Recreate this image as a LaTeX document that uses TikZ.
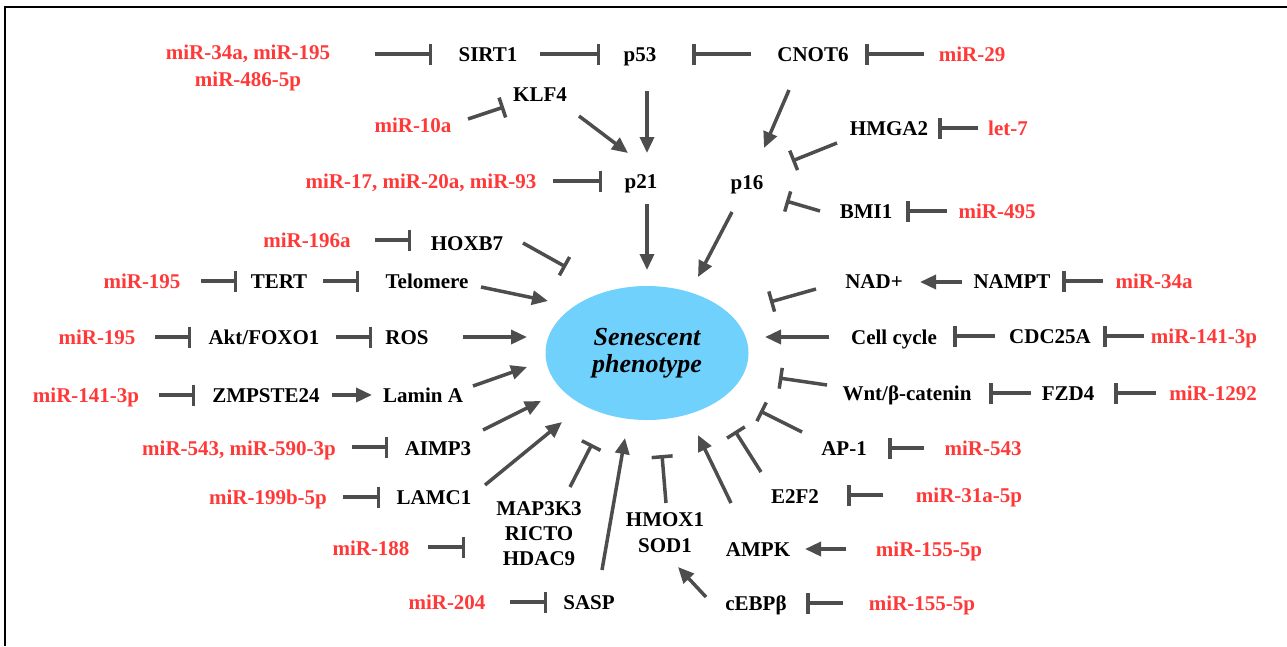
\documentclass[tikz,border=0pt]{standalone}
\usepackage{fontspec}
\setmainfont{Liberation Serif}
\usetikzlibrary{arrows.meta,shapes.geometric}
\definecolor{linegray}{RGB}{77,77,77}
\definecolor{mirred}{RGB}{255,56,56}
\definecolor{phenoblue}{RGB}{112,209,253}
\newcommand\genefont{\fontsize{21}{25}\selectfont\bfseries}
\tikzset{
  gene/.style={font=\genefont, text=black, inner sep=0pt, text height=14pt, text depth=0pt},
  mir/.style={gene, text=mirred},
  genemulti/.style={font=\genefont, text=black, inner sep=0pt, align=center},
  mirmulti/.style={genemulti, text=mirred},
  con/.style={draw=linegray, line width=3.5pt},
  inh/.style={con, -{Bar[width=21pt]}},
  act/.style={con, -{Triangle[length=16pt,width=14pt]}},
}
\begin{document}
\begin{tikzpicture}[x=1pt,y=-1pt]
\useasboundingbox (0,0) rectangle (1287,646);
\draw[line width=1.5pt] (5,646) -- (5,7) -- (1287,7);

% central node
\node[ellipse, fill=phenoblue, minimum width=203pt, minimum height=134pt, inner sep=0pt,
      font=\fontsize{26}{27}\selectfont\bfseries\itshape, align=center] (pheno) at (647,353) {Senescent\\phenotype};

% genes
\node[gene] (SIRT1) at (488,54) {SIRT1};
\node[gene] (p53) at (640,54) {p53};
\node[gene] (CNOT6) at (813,54) {CNOT6};
\node[gene] (KLF4) at (540,94) {KLF4};
\node[gene] (p21) at (641,181) {p21};
\node[gene] (p16) at (747,182) {p16};
\node[gene] (HMGA2) at (889,128) {HMGA2};
\node[gene] (BMI1) at (866,211) {BMI1};
\node[gene] (HOXB7) at (467,243) {HOXB7};
\node[gene] (TERT) at (279,281) {TERT};
\node[gene] (Telomere) at (427,281) {Telomere};
\node[gene] (Akt) at (264,337) {Akt/FOXO1};
\node[gene] (ROS) at (407,337) {ROS};
\node[gene] (ZMP) at (266,395) {ZMPSTE24};
\node[gene] (LaminA) at (423,395) {Lamin A};
\node[gene] (AIMP3) at (438,448) {AIMP3};
\node[gene] (LAMC1) at (434,497) {LAMC1};
\node[genemulti] (MAP) at (539,534) {MAP3K3\\RICTO\\HDAC9};
\node[gene] (SASP) at (589,602) {SASP};
\node[genemulti] (HMOX) at (665,533) {HMOX1\\[1pt]SOD1};
\node[gene] (cEBPb) at (756,603) {cEBPβ};
\node[gene] (AMPK) at (758,549) {AMPK};
\node[gene] (E2F2) at (795,496) {E2F2};
\node[gene] (AP1) at (844,448) {AP-1};
\node[gene] (Wnt) at (907,393) {Wnt/β-catenin};
\node[gene] (FZD4) at (1068,393) {FZD4};
\node[gene] (Cell) at (894,337) {Cell cycle};
\node[gene] (CDC) at (1050,336) {CDC25A};
\node[gene] (NAD) at (874,281) {NAD+};
\node[gene] (NAMPT) at (1012,281) {NAMPT};

% microRNAs
\node[mirmulti] (m1) at (248,67.5) {miR-34a, miR-195\\[2pt]miR-486-5p};
\node[mir] (m29) at (972,54) {miR-29};
\node[mir] (m10a) at (413,125) {miR-10a};
\node[mir] (m17) at (421,181) {miR-17, miR-20a, miR-93};
\node[mir] (let7) at (1008,128) {let-7};
\node[mir] (m495) at (997,211) {miR-495};
\node[mir] (m196a) at (307,240) {miR-196a};
\node[mir] (m195a) at (142,281) {miR-195};
\node[mir] (m195b) at (97,337) {miR-195};
\node[mir] (m141a) at (86,395) {miR-141-3p};
\node[mir] (m543a) at (239,448) {miR-543, miR-590-3p};
\node[mir] (m199) at (268,497) {miR-199b-5p};
\node[mir] (m188) at (371,548) {miR-188};
\node[mir] (m204) at (447,602) {miR-204};
\node[mir] (m155b) at (922,603) {miR-155-5p};
\node[mir] (m155a) at (929,549) {miR-155-5p};
\node[mir] (m31a) at (969,495) {miR-31a-5p};
\node[mir] (m543b) at (983,448) {miR-543};
\node[mir] (m1292) at (1213,393) {miR-1292};
\node[mir] (m141b) at (1204,336) {miR-141-3p};
\node[mir] (m34a) at (1154,281) {miR-34a};

% connectors (top)
\draw[inh] ([shift={(127,-13.5)}]m1.center) -- ([shift={(-56,0)}]SIRT1.center);
\draw[inh] ([shift={(52,0)}]SIRT1.center) -- ([shift={(-40,0)}]p53.center);
\draw[inh] ([shift={(-62,0)}]CNOT6.center) -- ([shift={(52,0)}]p53.center);
\draw[inh] ([shift={(-48,0)}]m29.center) -- ([shift={(52,0)}]CNOT6.center);
\draw[inh] ([shift={(55,-6)}]m10a.center) -- ([shift={(-36,13)}]KLF4.center);
\draw[act] ([shift={(39,22)}]KLF4.center) -- ([shift={(-13,-28)}]p21.center);
\draw[act] ([shift={(7,37)}]p53.center) -- ([shift={(6,-28)}]p21.center);
\draw[inh] ([shift={(132,0)}]m17.center) -- ([shift={(-39,0)}]p21.center);
\draw[act] ([shift={(-24,36)}]CNOT6.center) -- ([shift={(17,-34)}]p16.center);
\draw[inh] ([shift={(-52,15)}]HMGA2.center) -- ([shift={(45,-21)}]p16.center);
\draw[inh] ([shift={(-30,0)}]let7.center) -- ([shift={(49,0)}]HMGA2.center);
\draw[inh] ([shift={(-46,0)}]BMI1.center) -- ([shift={(39,19)}]p16.center);
\draw[inh] ([shift={(-50,0)}]m495.center) -- ([shift={(40,0)}]BMI1.center);
\draw[act] ([shift={(6,23)}]p21.center) -- ([shift={(0,-83)}]pheno.center);
\draw[act] ([shift={(-15,30)}]p16.center) -- ([shift={(51,-76)}]pheno.center);

% connectors (left)
\draw[inh] ([shift={(68,0)}]m196a.center) -- ([shift={(-56,-3)}]HOXB7.center);
\draw[inh] ([shift={(56,0)}]HOXB7.center) -- ([shift={(-81,-86)}]pheno.center);
\draw[inh] ([shift={(59,0)}]m195a.center) -- ([shift={(-42,0)}]TERT.center);
\draw[inh] ([shift={(44,0)}]TERT.center) -- ([shift={(-68,0)}]Telomere.center);
\draw[act] ([shift={(54,6)}]Telomere.center) -- ([shift={(-99,-52)}]pheno.center);
\draw[inh] ([shift={(58,0)}]m195b.center) -- ([shift={(-73,0)}]Akt.center);
\draw[inh] ([shift={(72,0)}]Akt.center) -- ([shift={(-35,0)}]ROS.center);
\draw[act] ([shift={(56,0)}]ROS.center) -- ([shift={(-120,-16)}]pheno.center);
\draw[inh] ([shift={(73,0)}]m141a.center) -- ([shift={(-71,0)}]ZMP.center);
\draw[act] ([shift={(66,0)}]ZMP.center) -- ([shift={(-51,0)}]LaminA.center);
\draw[act] ([shift={(50,-9)}]LaminA.center) -- ([shift={(-120,14)}]pheno.center);

% connectors (bottom)
\draw[inh] ([shift={(113,-1)}]m543a.center) -- ([shift={(-50,-1)}]AIMP3.center);
\draw[act] ([shift={(45,-18)}]AIMP3.center) -- ([shift={(-106,48)}]pheno.center);
\draw[inh] ([shift={(75,0)}]m199.center) -- ([shift={(-54,0)}]LAMC1.center);
\draw[act] ([shift={(51,-12)}]LAMC1.center) -- ([shift={(-85,69)}]pheno.center);
\draw[inh] ([shift={(57,-1)}]m188.center) -- ([shift={(-74,13)}]MAP.center);
\draw[inh] ([shift={(31,-47)}]MAP.center) -- ([shift={(-55,91)}]pheno.center);
\draw[inh] ([shift={(63,0)}]m204.center) -- ([shift={(-42,0)}]SASP.center);
\draw[act] ([shift={(13,-32)}]SASP.center) -- ([shift={(-22,85)}]pheno.center);
\draw[inh] ([shift={(1,-30)}]HMOX.center) -- ([shift={(15,102)}]pheno.center);
\draw[act] ([shift={(-50,-6)}]cEBPb.center) -- ([shift={(13,34)}]HMOX.center);
\draw[inh] ([shift={(-79,0)}]m155b.center) -- ([shift={(50,0)}]cEBPb.center);
\draw[act] ([shift={(-27,-46)}]AMPK.center) -- ([shift={(51,82)}]pheno.center);
\draw[act] ([shift={(-83,0)}]m155a.center) -- ([shift={(47,0)}]AMPK.center);
\draw[inh] ([shift={(-34,-24)}]E2F2.center) -- ([shift={(88,78)}]pheno.center);
\draw[inh] ([shift={(-86,0)}]m31a.center) -- ([shift={(52,-1)}]E2F2.center);

% connectors (right)
\draw[inh] ([shift={(-42,-16)}]AP1.center) -- ([shift={(113,58)}]pheno.center);
\draw[inh] ([shift={(-59,0)}]m543b.center) -- ([shift={(44,0)}]AP1.center);
\draw[inh] ([shift={(-80,-8)}]Wnt.center) -- ([shift={(132,25)}]pheno.center);
\draw[inh] ([shift={(-37,0)}]FZD4.center) -- ([shift={(82,0)}]Wnt.center);
\draw[inh] ([shift={(-57,0)}]m1292.center) -- ([shift={(46,0)}]FZD4.center);
\draw[act] ([shift={(-65,0)}]Cell.center) -- ([shift={(118,-16)}]pheno.center);
\draw[inh] ([shift={(-55,0)}]CDC.center) -- ([shift={(59,-1)}]Cell.center);
\draw[inh] ([shift={(-60,0)}]m141b.center) -- ([shift={(53,0)}]CDC.center);
\draw[inh] ([shift={(-58,8)}]NAD.center) -- ([shift={(123,-51)}]pheno.center);
\draw[act] ([shift={(-50,1)}]NAMPT.center) -- ([shift={(46,1)}]NAD.center);
\draw[inh] ([shift={(-51,0)}]m34a.center) -- ([shift={(50,0)}]NAMPT.center);
\end{tikzpicture}
\end{document}
